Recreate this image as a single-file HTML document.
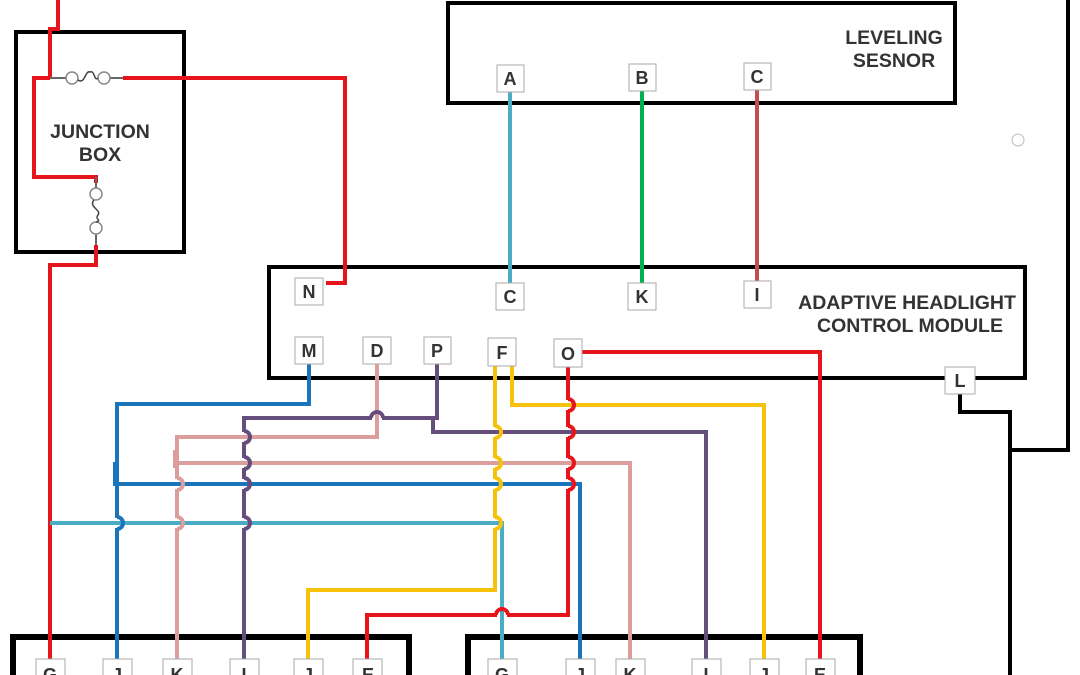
<!DOCTYPE html>
<html><head><meta charset="utf-8"><style>
html,body{margin:0;padding:0;background:#fff;width:1080px;height:675px;overflow:hidden}
svg text{font-family:"Liberation Sans",sans-serif;font-weight:bold;fill:#333}
</style></head><body>
<svg width="1080" height="675" viewBox="0 0 1080 675" xmlns="http://www.w3.org/2000/svg">
<g fill="none" stroke-linejoin="miter">
<rect x="16" y="32" width="168" height="220" stroke="#000" stroke-width="4"/>
<rect x="448" y="3" width="507" height="100" stroke="#000" stroke-width="4"/>
<rect x="269" y="267" width="756" height="111" stroke="#000" stroke-width="4"/>
<rect x="13" y="637" width="396" height="60" stroke="#000" stroke-width="6"/>
<rect x="468" y="637" width="392" height="60" stroke="#000" stroke-width="6"/>
<path d="M960 392 V412 H1010 V675 M1010 450 H1068 V0" stroke="#000" stroke-width="4"/>
<circle cx="1018" cy="140" r="6" stroke="#bbb" stroke-width="1"/>
<path d="M58 0 V29 H50 V78 M50 78 H34 V177 H96 V183 M123 78 H345 V283 H326 M96 245 V265 H50 V675" stroke="#e8141c" stroke-width="4"/>
<path d="M50 78 H66 M110 78 H123 M96 177 V188 M96 233 V245" stroke="#666" stroke-width="2"/>
<circle cx="72" cy="78" r="6" stroke="#888" stroke-width="1.5" fill="#fff"/>
<circle cx="104" cy="78" r="6" stroke="#888" stroke-width="1.5" fill="#fff"/>
<path d="M78 80 C85 85 85 70 90 72 C95 70 94 82 98 78" stroke="#444" stroke-width="1.5"/>
<circle cx="96" cy="194" r="6" stroke="#888" stroke-width="1.5" fill="#fff"/>
<circle cx="96" cy="228" r="6" stroke="#888" stroke-width="1.5" fill="#fff"/>
<path d="M94 200 C88 207 102 210 98 215 C94 220 103 220 96 222" stroke="#444" stroke-width="1.5"/>
<path d="M510 91 V283" stroke="#4bacc6" stroke-width="4"/>
<path d="M642 90 V283" stroke="#00b050" stroke-width="4"/>
<path d="M757 89 V281" stroke="#c0504d" stroke-width="4"/>
<path d="M309 364 V404 H117 V675" stroke="#1a75bb" stroke-width="4"/>
<path d="M117 484 H580 V675 M115 462 V486" stroke="#1a75bb" stroke-width="4"/>
<path d="M377 364 V437 H177 V675 M177 463 H630 V675 M175 450 V468" stroke="#dc9d9d" stroke-width="4"/>
<path d="M437 364 V418 H244 V675 M433 418 V432 H706 V675" stroke="#654e7c" stroke-width="4"/>
<path d="M495 366 V590 H308 V675 M512 366 V405 H764 V675" stroke="#f7c20b" stroke-width="4"/>
<path d="M50 523 H502 V675" stroke="#4bacc6" stroke-width="4"/>
<path d="M568 366 V615 H367 V675 M581 352 H820 V675" stroke="#e8141c" stroke-width="4"/>
<!-- erase crossing segments -->
<g stroke="#fff" stroke-width="7">
<path d="M117 518 V528"/>
<path d="M244 432 V442 M244 458 V468 M244 479 V489 M244 518 V528"/>
<path d="M177 479 V489 M177 518 V528"/>
<path d="M495 427 V437 M495 458 V468 M495 479 V489 M495 518 V528"/>
<path d="M568 400 V410 M568 427 V437 M568 458 V468 M568 479 V489"/>
<path d="M372 418 H382 M497 615 H507"/>
</g>
<!-- redraw crossed lines -->
<g stroke-width="4">
<path d="M110 523 H125 M170 523 H185 M237 523 H252 M488 523 H502" stroke="#4bacc6"/>
<path d="M237 437 H252" stroke="#dc9d9d"/>
<path d="M237 463 H252 M488 463 H503 M561 463 H576" stroke="#dc9d9d"/>
<path d="M237 484 H252 M170 484 H185 M488 484 H503 M561 484 H576" stroke="#1a75bb"/>
<path d="M488 432 H503 M561 432 H576" stroke="#654e7c"/>
<path d="M561 405 H576" stroke="#f7c20b"/>
<path d="M377 411 V425" stroke="#dc9d9d"/>
<path d="M502 608 V622" stroke="#4bacc6"/>
</g>
<g stroke-width="4">
<path d="M117 517 A6 6 0 0 1 117 529" stroke="#1a75bb"/>
<path d="M244 431 A6 6 0 0 1 244 443 M244 457 A6 6 0 0 1 244 469 M244 478 A6 6 0 0 1 244 490 M244 517 A6 6 0 0 1 244 529" stroke="#654e7c"/>
<path d="M177 478 A6 6 0 0 1 177 490 M177 517 A6 6 0 0 1 177 529" stroke="#dc9d9d"/>
<path d="M495 426 A6 6 0 0 1 495 438 M495 457 A6 6 0 0 1 495 469 M495 478 A6 6 0 0 1 495 490 M495 517 A6 6 0 0 1 495 529" stroke="#f7c20b"/>
<path d="M568 399 A6 6 0 0 1 568 411 M568 426 A6 6 0 0 1 568 438 M568 457 A6 6 0 0 1 568 469 M568 478 A6 6 0 0 1 568 490" stroke="#e8141c"/>
<path d="M371 418 A6 6 0 0 1 383 418" stroke="#654e7c"/>
<path d="M496 615 A6 6 0 0 1 508 615" stroke="#e8141c"/>
</g>
</g>
<g fill="#fff" stroke="#aaa" stroke-width="1">
<rect x="497" y="65" width="27" height="27"/><rect x="629" y="64" width="27" height="27"/><rect x="744" y="63" width="27" height="27"/>
<rect x="295" y="278" width="28" height="27"/><rect x="496" y="283" width="28" height="27"/><rect x="628" y="283" width="28" height="27"/><rect x="744" y="281" width="27" height="27"/>
<rect x="295" y="337" width="28" height="27"/><rect x="363" y="337" width="28" height="27"/><rect x="424" y="337" width="27" height="27"/><rect x="488" y="338" width="28" height="28"/><rect x="554" y="339" width="28" height="28"/>
<rect x="945" y="367" width="30" height="27"/>
<rect x="36" y="659" width="29" height="25"/><rect x="103" y="659" width="29" height="25"/><rect x="163" y="659" width="29" height="25"/><rect x="230" y="659" width="29" height="25"/><rect x="294" y="659" width="29" height="25"/><rect x="353" y="659" width="29" height="25"/>
<rect x="488" y="659" width="29" height="25"/><rect x="566" y="659" width="29" height="25"/><rect x="616" y="659" width="29" height="25"/><rect x="692" y="659" width="29" height="25"/><rect x="750" y="659" width="29" height="25"/><rect x="806" y="659" width="29" height="25"/>
</g>
<g font-size="18" text-anchor="middle">
<text x="510" y="85">A</text><text x="642" y="84">B</text><text x="757" y="83">C</text>
<text x="309" y="298">N</text><text x="510" y="303">C</text><text x="642" y="303">K</text><text x="757" y="301">I</text>
<text x="309" y="357">M</text><text x="377" y="357">D</text><text x="437" y="357">P</text><text x="502" y="359">F</text><text x="568" y="360">O</text>
<text x="960" y="387">L</text>
<text x="50" y="681">G</text><text x="117" y="681">J</text><text x="177" y="681">K</text><text x="244" y="681">I</text><text x="308" y="681">J</text><text x="368" y="681">E</text>
<text x="502" y="681">G</text><text x="580" y="681">J</text><text x="630" y="681">K</text><text x="706" y="681">I</text><text x="764" y="681">J</text><text x="820" y="681">E</text>
</g>
<g font-size="19.5" text-anchor="middle">
<text x="100" y="138">JUNCTION</text><text x="100" y="161">BOX</text>
<text x="894" y="44">LEVELING</text><text x="894" y="67">SESNOR</text>
<text x="907" y="309">ADAPTIVE HEADLIGHT</text><text x="910" y="332">CONTROL MODULE</text>
</g>
</svg>
</body></html>
